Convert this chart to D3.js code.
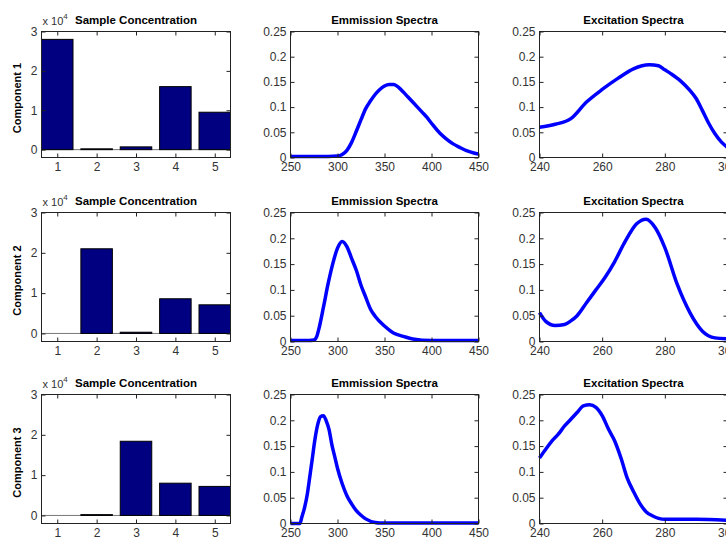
<!DOCTYPE html>
<html>
<head>
<meta charset="utf-8">
<script src="https://cdn.jsdelivr.net/npm/d3@7"></script>
<style>
  body { margin: 0; background: #fff; }
  text { font-family: "Liberation Sans", Arial, sans-serif; }
</style>
</head>
<body>
<div id="chart"></div>
<script>
// bar chart data (x 10^4)
var samples = [1, 2, 3, 4, 5];
var conc1 = [2.8, 0.02, 0.07, 1.6, 0.95];
var conc2 = [0, 2.1, 0.03, 0.86, 0.71];
var conc3 = [0, 0.02, 1.84, 0.8, 0.72];

// emission spectra
var emWl1 = [250, 280, 300, 305, 310, 315, 320, 325, 330, 335, 340, 345, 350, 355, 360, 365, 370, 375, 380, 390, 395, 400, 409, 415, 423, 430, 438, 445, 450];
var emVal1 = [0.002, 0.002, 0.003, 0.006, 0.014, 0.03, 0.052, 0.075, 0.097, 0.112, 0.125, 0.135, 0.142, 0.145, 0.145, 0.139, 0.13, 0.12, 0.11, 0.09, 0.08, 0.068, 0.048, 0.038, 0.027, 0.02, 0.013, 0.009, 0.007];
var emWl2 = [250, 270, 275, 278, 280, 285, 290, 295, 300, 305, 310, 315, 320, 325, 330, 335, 340, 350, 360, 370, 380, 400, 450];
var emVal2 = [0.002, 0.002, 0.003, 0.01, 0.023, 0.066, 0.112, 0.151, 0.181, 0.194, 0.184, 0.161, 0.138, 0.109, 0.086, 0.063, 0.049, 0.03, 0.016, 0.01, 0.005, 0.002, 0.002];
var emWl3 = [250, 260, 262, 265, 268, 270, 273, 276, 279, 282, 285, 288, 291, 294, 297, 300, 305, 310, 315, 320, 325, 330, 340, 345, 450];
var emVal3 = [0, 0, 0.012, 0.031, 0.058, 0.084, 0.123, 0.163, 0.192, 0.207, 0.209, 0.199, 0.182, 0.153, 0.13, 0.107, 0.077, 0.054, 0.038, 0.025, 0.016, 0.009, 0.002, 0.001, 0.001];

// excitation spectra
var exWl1 = [240, 245, 250, 255, 260, 265, 270, 275, 278, 280, 282, 285, 288, 290, 292, 294, 296, 298, 300];
var exVal1 = [0.06, 0.066, 0.077, 0.11, 0.135, 0.157, 0.176, 0.184, 0.182, 0.174, 0.166, 0.152, 0.133, 0.117, 0.093, 0.068, 0.047, 0.031, 0.02];
var exWl2 = [240, 242, 245, 248, 250, 252, 255, 258, 261, 264, 267, 271, 274, 277, 280, 284, 288, 292, 296, 300];
var exVal2 = [0.056, 0.039, 0.031, 0.033, 0.04, 0.05, 0.075, 0.1, 0.125, 0.155, 0.19, 0.228, 0.237, 0.22, 0.182, 0.11, 0.056, 0.02, 0.007, 0.005];
var exWl3 = [240, 242, 244, 246, 248, 250, 252, 254, 256, 258, 260, 262, 264, 266, 268, 270, 272, 274, 276, 278, 280, 290, 300];
var exVal3 = [0.127, 0.144, 0.16, 0.173, 0.189, 0.202, 0.215, 0.228, 0.23, 0.225, 0.209, 0.183, 0.16, 0.127, 0.088, 0.062, 0.039, 0.023, 0.015, 0.01, 0.008, 0.008, 0.006];

// tick labels
var barYTicks = [0, 1, 2, 3];
var specYTicks = [0, 0.05, 0.1, 0.15, 0.2, 0.25];
var emXTicks = [250, 300, 350, 400, 450];
var exXTicks = [240, 260, 280, 300];
var rowLabels = ["Component 1", "Component 2", "Component 3"];

var W = 726, H = 540;
var rows = [[31, 157], [212, 341], [394, 523]];
var cols = [[41, 230], [290, 478], [539, 727]];

var svg = d3.select("#chart").append("svg")
    .attr("width", W)
    .attr("height", H);

function frame(g, x, y, w, h, xTicks, yTicks, xFmt, yFmt) {
    g.append("g")
        .attr("transform", "translate(0," + h + ")")
        .call(d3.axisBottom(x).tickValues(xTicks).tickFormat(xFmt).tickSizeInner(-4).tickSizeOuter(0).tickPadding(5));
    g.append("g")
        .call(d3.axisLeft(y).tickValues(yTicks).tickFormat(yFmt).tickSizeInner(-4).tickSizeOuter(0).tickPadding(4));
    g.append("g")
        .call(d3.axisTop(x).tickValues(xTicks).tickFormat("").tickSizeInner(-4).tickSizeOuter(0));
    g.append("g")
        .attr("transform", "translate(" + w + ",0)")
        .call(d3.axisRight(y).tickValues(yTicks).tickFormat("").tickSizeInner(-4).tickSizeOuter(0));
    g.selectAll(".domain").remove();
    g.selectAll(".tick line").attr("stroke", "#222");
    g.selectAll(".tick text").attr("font-size", 12).attr("fill", "#333");
    g.append("rect")
        .attr("width", w).attr("height", h)
        .attr("fill", "none").attr("stroke", "#222").attr("stroke-width", 1);
}

function title(g, w, txt) {
    g.append("text")
        .attr("x", w / 2).attr("y", -8)
        .attr("text-anchor", "middle")
        .attr("font-size", 11.5).attr("font-weight", "bold")
        .text(txt);
}

var concs = [conc1, conc2, conc3];
var ems = [[emWl1, emVal1], [emWl2, emVal2], [emWl3, emVal3]];
var exs = [[exWl1, exVal1], [exWl2, exVal2], [exWl3, exVal3]];
var numFmt = function(d) { return String(+d.toFixed(2)); };

rows.forEach(function(r, i) {
    var h = r[1] - r[0];

    // Sample concentration bars
    var c = cols[0], w = c[1] - c[0];
    var g = svg.append("g").attr("transform", "translate(" + (c[0] + 0.5) + "," + (r[0] + 0.5) + ")");
    var x = d3.scaleLinear().domain([0.6, 5.4]).range([0, w]);
    var y = d3.scaleLinear().domain([-0.2, 3]).range([h, 0]);
    g.append("line")
        .attr("x1", 0).attr("x2", w)
        .attr("y1", y(0)).attr("y2", y(0))
        .attr("stroke", "#777").attr("stroke-width", 1);
    g.selectAll("rect.bar")
        .data(concs[i])
        .enter()
        .append("rect")
        .attr("class", "bar")
        .attr("x", function(d, j) { return x(samples[j] - 0.4); })
        .attr("width", x(1.4) - x(0.6))
        .attr("y", function(d) { return y(d); })
        .attr("height", function(d) { return y(0) - y(d); })
        .attr("fill", "#000080")
        .attr("stroke", "#000")
        .attr("stroke-width", 1);
    frame(g, x, y, w, h, samples, barYTicks, d3.format("d"), d3.format("d"));
    title(g, w, "Sample Concentration");
    var sc = g.append("text")
        .attr("x", 1).attr("y", -7)
        .attr("font-size", 11).attr("fill", "#333");
    sc.append("tspan").text("x 10");
    sc.append("tspan").attr("dy", -6).attr("font-size", 8).text("4");
    svg.append("text")
        .attr("transform", "translate(21," + ((r[0] + r[1]) / 2 + 4) + ") rotate(-90)")
        .attr("text-anchor", "middle")
        .attr("font-size", 11).attr("font-weight", "bold")
        .text(rowLabels[i]);

    // spectra
    [[cols[1], ems[i], [250, 450], emXTicks, "Emmission Spectra"],
     [cols[2], exs[i], [240, 300], exXTicks, "Excitation Spectra"]].forEach(function(s) {
        var c = s[0], w = c[1] - c[0];
        var g = svg.append("g").attr("transform", "translate(" + (c[0] + 0.5) + "," + (r[0] + 0.5) + ")");
        var x = d3.scaleLinear().domain(s[2]).range([0, w]);
        var y = d3.scaleLinear().domain([0, 0.25]).range([h, 0]);
        var wl = s[1][0], val = s[1][1];
        var line = d3.line()
            .x(function(d, j) { return x(wl[j]); })
            .y(function(d) { return y(d); })
            .curve(d3.curveMonotoneX);
        g.append("path")
            .datum(val)
            .attr("d", line)
            .attr("fill", "none")
            .attr("stroke", "#0000ff")
            .attr("stroke-width", 3.5)
            .attr("stroke-linejoin", "round");
        frame(g, x, y, w, h, s[3], specYTicks, d3.format("d"), numFmt);
        title(g, w, s[4]);
    });
});
</script>
</body>
</html>
